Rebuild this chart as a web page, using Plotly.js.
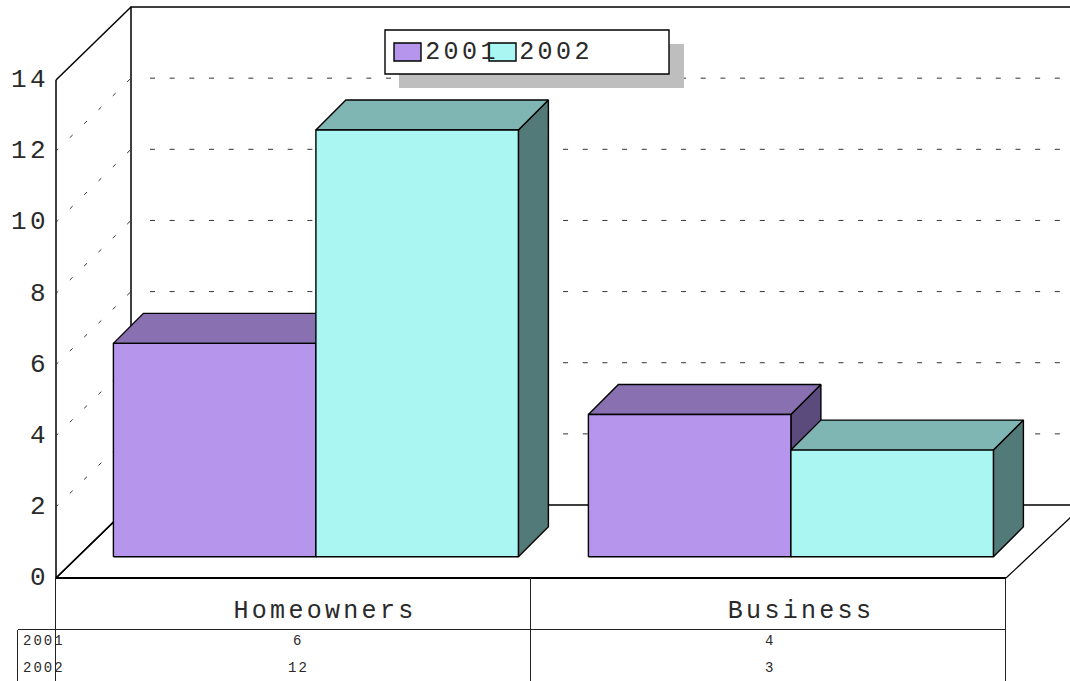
<!DOCTYPE html>
<html><head><meta charset="utf-8">
<script src="https://cdn.plot.ly/plotly-3.0.1.min.js"></script>
<style>
html,body{margin:0;padding:0;background:#fff;overflow:hidden}
#c{width:1070px;height:681px}
.xtick text{letter-spacing:3.3px}
.ytick text{letter-spacing:3.4px}
.ytick{transform:translateY(-2px)}
.annotation text{letter-spacing:2px}
.annotation[data-index="0"] text,.annotation[data-index="1"] text{letter-spacing:3.4px}
</style></head><body><div id="c"></div>
<script>
const categories = ["Homeowners", "Business"];
const seriesNames = ["2001", "2002"];
const values2001 = [6, 4];
const values2002 = [12, 3];
const yTicks = [0, 2, 4, 6, 8, 10, 12, 14];
const colors2001 = {front:"#B695EC", top:"#8870B1", side:"#5B4B7C"};
const colors2002 = {front:"#AAF6F2", top:"#7FB6B3", side:"#527A78"};

// pixel scale of the chart's axes
const W=1070,H=681, X0=56, Y0=578, CAT=475, UNIT=35.57;
const X=p=>(p-X0)/CAT, Y=p=>(Y0-p)/UNIT;   // pixel -> data
const dW=[75/CAT,73/UNIT];       // wall depth
const dF=[22/CAT,21.2/UNIT];     // floor inset of bars
const dB=[30/CAT,30/UNIT];       // bar depth
const barW=202.5/CAT, pad=35.4/CAT;
const yMax=14;
const textColor="#2a2a2a", mono="Liberation Mono, monospace";

const traces=[];
function line(xs,ys,w,dash,color){traces.push({type:"scatter",mode:"lines",x:xs,y:ys,hoverinfo:"skip",showlegend:false,
  line:{color:color||"#000",width:w,dash:dash||"solid"}});}
function poly(xs,ys,fill,name){traces.push({type:"scatter",mode:"lines",x:xs.concat(xs[0]),y:ys.concat(ys[0]),fill:"toself",fillcolor:fill,
  name:name,hoverinfo:"skip",showlegend:false,line:{color:"#000",width:1.4}});}

// walls and floor
const xEnd=X(W+2);
line([xEnd,dW[0],dW[0],0,0],[yMax+dW[1],yMax+dW[1],dW[1],0,yMax],1.5);
line([dW[0],0],[yMax+dW[1],yMax],1.5);
line([0,dW[0],xEnd],[0,dW[1],dW[1]],1.5);
line([0,2],[0,0],2);
line([2,xEnd],[0,Y(516)],1.2);
// gridlines on the back and side walls
yTicks.filter(v=>v>0&&v<yMax).forEach(v=>{
  line([X(150),xEnd],[v+dW[1],v+dW[1]],1,"5px,14.67px","#333");
  line([X(130),0],[v+dW[1]*(74/75),v],1,"4px,16px","#333");
});
// boxes
function box(i,k,v,c,name){
  const x0=i+dF[0]+pad+k*barW, x1=x0+barW, b=dF[1], t=b+v;
  poly([x1,x1+dB[0],x1+dB[0],x1],[b,b+dB[1],t+dB[1],t],c.side,name+" side");
  poly([x0,x1,x1+dB[0],x0+dB[0]],[t,t,t+dB[1],t+dB[1]],c.top,name+" top");
  poly([x0,x1,x1,x0],[b,b,t,t],c.front,name);
}
categories.forEach((c,i)=>{
  box(i,0,values2001[i],colors2001,seriesNames[0]);
  box(i,1,values2002[i],colors2002,seriesNames[1]);
});

const rect=(x0,y0,x1,y1,fill,lw)=>({type:"rect",xref:"x",yref:"y",x0:X(x0),x1:X(x1),y0:Y(y0),y1:Y(y1),fillcolor:fill,line:{color:"#000",width:lw}});
const seg=(x0,y0,x1,y1)=>({type:"line",xref:"x",yref:"y",x0:X(x0),x1:X(x1),y0:Y(y0),y1:Y(y1),line:{color:"#222",width:1}});
const shapes=[
  rect(399,44,684,88,"#BEBEBE",0),
  rect(385,30,669,74,"#fff",1.4),
  rect(394,43,421,61,colors2001.front,1.4),
  rect(489,43,516,61,colors2002.front,1.4),
  seg(55.5,578,55.5,681),seg(530.5,578,530.5,681),seg(1005.5,578,1005.5,681),
  seg(18,629.5,1006,629.5),seg(17.5,630,17.5,681)
];
const txt=(s,px,py,size,anchor)=>({text:s,x:X(px),y:Y(py),xref:"x",yref:"y",showarrow:false,xanchor:anchor||"center",yanchor:"middle",
  font:{family:mono,size:size,color:textColor}});
const annotations=[
  txt(seriesNames[0],430,52,25,"left"),
  txt(seriesNames[1],524,52,25,"left"),
  txt(seriesNames[0],25,641,14,"left"),
  txt(seriesNames[1],25,668,14,"left"),
  txt(String(values2001[0]),298,641,14),
  txt(String(values2002[0]),298,668,14),
  txt(String(values2001[1]),770,641,14),
  txt(String(values2002[1]),770,668,14)
];

const layout={width:W,height:H,margin:{l:0,r:0,t:0,b:0},paper_bgcolor:"#fff",plot_bgcolor:"#fff",showlegend:false,
  xaxis:{range:[X(0),X(W)],domain:[0,1],anchor:"free",position:1-Y0/H,showgrid:false,zeroline:false,showline:false,fixedrange:true,
    tickmode:"array",tickvals:[X(325),X(801)],ticktext:categories,ticks:"",ticklabelstandoff:14,
    tickfont:{family:mono,size:25,color:textColor}},
  yaxis:{range:[Y(H),Y(0)],domain:[0,1],anchor:"free",position:X0/W,showgrid:false,zeroline:false,showline:false,fixedrange:true,
    tickmode:"array",tickvals:yTicks,ticktext:yTicks.map(String),ticks:"",ticklabelstandoff:7,
    tickfont:{family:mono,size:26,color:textColor}},
  shapes:shapes,annotations:annotations};
Plotly.newPlot("c",traces,layout,{displayModeBar:false,staticPlot:true});
</script></body></html>
